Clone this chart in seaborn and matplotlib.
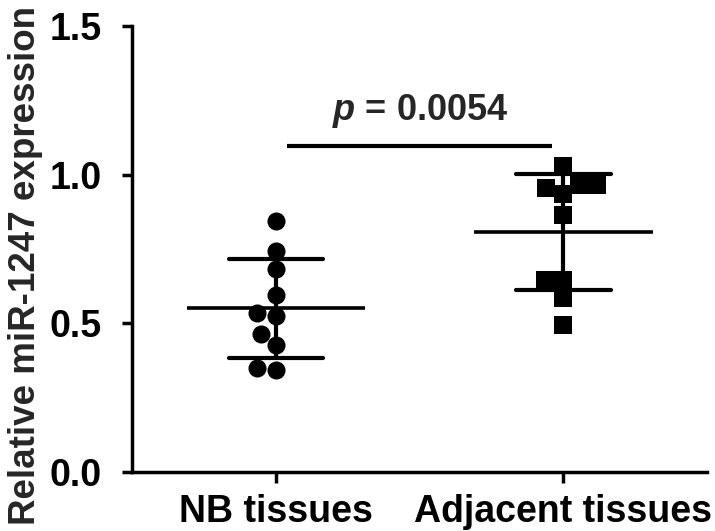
import numpy as np
import pandas as pd
import matplotlib
matplotlib.use('Agg')
import matplotlib.pyplot as plt
import seaborn as sns

# --- Style ---
sns.set_theme(style='ticks')
plt.rcParams['font.family'] = ['Liberation Sans', 'DejaVu Sans']
plt.rcParams['font.weight'] = 'bold'
plt.rcParams['mathtext.fontset'] = 'custom'
plt.rcParams['mathtext.it'] = 'Liberation Sans:bold:italic'
plt.rcParams['mathtext.rm'] = 'Liberation Sans:bold'

# --- Data ---
groups = ['NB tissues', 'Adjacent tissues']
nb_values = [0.843, 0.745, 0.683, 0.594, 0.525, 0.534, 0.465, 0.428, 0.343, 0.349]
adj_values = [1.028, 0.956, 0.965, 0.965, 0.935, 0.865, 0.646, 0.646, 0.585, 0.493]
y_ticks = [0.0, 0.5, 1.0, 1.5]
p_label = '$p$ = 0.0054'

data = pd.DataFrame({
    'Group': [groups[0]] * len(nb_values) + [groups[1]] * len(adj_values),
    'Value': nb_values + adj_values,
})

# --- Plot ---
fig = plt.figure(figsize=(7.15, 5.31), dpi=100)
ax = fig.add_axes([0.185, 0.111, 0.804, 0.840])

# circles for NB, squares for adjacent
nb = data[data['Group'] == groups[0]]
adj = data[data['Group'] == groups[1]]
sns.swarmplot(data=nb, x='Group', y='Value', order=groups, color='black',
              marker='o', size=13, ax=ax, legend=False)
sns.swarmplot(data=adj, x='Group', y='Value', order=groups, color='black',
              marker='s', size=12.5, ax=ax, legend=False)

# SD error bars
sns.pointplot(data=data, x='Group', y='Value', order=groups, errorbar='sd',
              capsize=0.33, linestyle='none', marker='', color='black',
              err_kws={'linewidth': 3}, ax=ax)

# mean lines
means = data.groupby('Group')['Value'].mean().reindex(groups)
for i, m in enumerate(means):
    ax.hlines(m, i - 0.31, i + 0.31, color='black', linewidth=2.6, zorder=5)

# significance bar
ax.plot([0.04, 0.96], [1.095, 1.095], color='black', linewidth=3,
        solid_capstyle='butt')
ax.text(0.5, 1.185, p_label, ha='center', va='baseline', fontsize=26,
        fontweight='bold')

ax.set_xlim(-0.5, 1.5)
ax.set_ylim(0, 1.5)
ax.set_yticks(y_ticks)
ax.set_yticklabels([f'{t:.1f}' for t in y_ticks])
ax.set_xlabel('')
ax.set_ylabel('Relative miR-1247 expression', fontsize=26.5, fontweight='bold')
ax.yaxis.set_label_coords(-0.155, 0.462)
ax.tick_params(axis='y', labelsize=27, length=7, width=2.5, pad=15,
               color='black', labelcolor='black')
ax.tick_params(axis='x', labelsize=27, length=8, width=2.5, pad=8,
               color='black', labelcolor='black')
for lbl in ax.get_xticklabels() + ax.get_yticklabels():
    lbl.set_fontweight('bold')

sns.despine(ax=ax)
for side in ['left', 'bottom']:
    ax.spines[side].set_linewidth(2.5)
    ax.spines[side].set_color('black')

fig.savefig('out.png', dpi=100, facecolor='white')
